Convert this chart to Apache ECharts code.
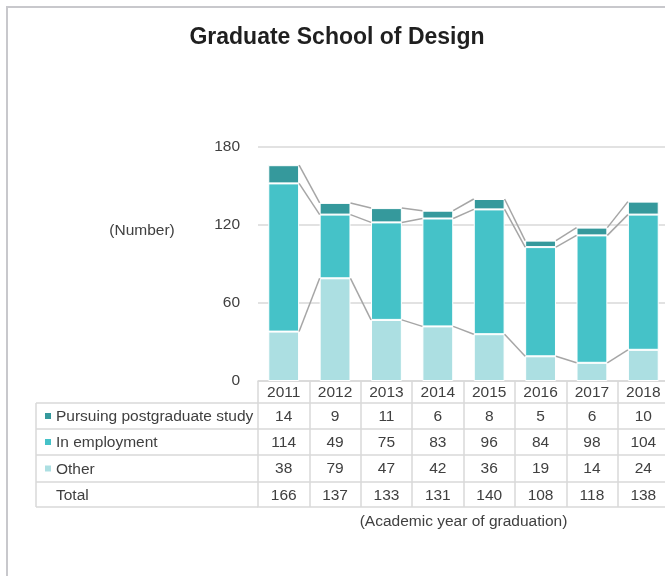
<!DOCTYPE html>
<html>
<head>
<meta charset="utf-8">
<script src="https://cdn.jsdelivr.net/npm/echarts@6/dist/echarts.min.js"></script>
<style>
html,body{margin:0;padding:0;background:#fff;}
#chart{width:665px;height:576px;}
</style>
</head>
<body>
<div id="chart"></div>
<script>
// ---- data ----
const years = ['2011','2012','2013','2014','2015','2016','2017','2018'];
const pursuing = [14, 9, 11, 6, 8, 5, 6, 10];
const employment = [114, 49, 75, 83, 96, 84, 98, 104];
const other = [38, 79, 47, 42, 36, 19, 14, 24];
const totals = [166, 137, 133, 131, 140, 108, 118, 138];
const seriesNames = ['Pursuing postgraduate study', 'In employment', 'Other'];
const totalName = 'Total';
const yMin = 0, yMax = 180, yStep = 60;

// ---- style / layout ----
const FONT = "'Liberation Sans', Arial, sans-serif";
const colors = { pursuing: '#35999c', employment: '#45c2c8', other: '#acdfe2' };
const gridLine = '#d9d9d9';
const textColor = '#404040';
const gridLeft = 258, gridTop = 147, gridW = 411, gridH = 234;
const axisY = gridTop + gridH; // 381
const rowLines = [403, 429, 455, 482, 507];
const tableLeft = 36;
const fs = 15.5;

const rowValues = [pursuing, employment, other, totals];
const rowNames = [seriesNames[0], seriesNames[1], seriesNames[2], totalName];
const rowColors = [colors.pursuing, colors.employment, colors.other, null];

// series lines (boundaries between stacked segments)
const bOther = other.slice();
const bEmp = other.map((v, i) => v + employment[i]);
const bTotal = bEmp.map((v, i) => v + pursuing[i]);
const connData = [];
[bOther, bEmp, bTotal].forEach(b => {
  for (let i = 0; i < b.length - 1; i++) connData.push([i, b[i], b[i + 1]]);
});

const xAxes = [];
// header (years)
xAxes.push({
  type: 'category', data: years, position: 'bottom', offset: 0, boundaryGap: true,
  axisLine: { show: true, lineStyle: { color: gridLine, width: 1.5 } },
  axisTick: { show: true, interval: 0, length: rowLines[0] - axisY, lineStyle: { color: gridLine, width: 1.5 } },
  axisLabel: { interval: 0, margin: 4, fontSize: fs, color: textColor, fontFamily: FONT },
  splitLine: { show: false }
});
// value rows
rowValues.forEach((arr, r) => {
  xAxes.push({
    type: 'category', data: years, position: 'bottom', offset: rowLines[r] - axisY, boundaryGap: true,
    axisLine: { show: true, lineStyle: { color: gridLine, width: 1.5 } },
    axisTick: { show: true, interval: 0, length: rowLines[r + 1] - rowLines[r], lineStyle: { color: gridLine, width: 1.5 } },
    axisLabel: { interval: 0, margin: 6, fontSize: fs, color: textColor, fontFamily: FONT,
      formatter: (v, idx) => String(arr[idx]) },
    splitLine: { show: false }
  });
});
// bottom line + axis name
xAxes.push({
  type: 'category', data: years, position: 'bottom', offset: rowLines[4] - axisY, boundaryGap: true,
  axisLine: { show: true, lineStyle: { color: gridLine, width: 1.5 } },
  axisTick: { show: false }, axisLabel: { show: false },
  name: '(Academic year of graduation)', nameLocation: 'middle', nameGap: 7,
  nameTextStyle: { fontSize: fs, color: textColor, fontFamily: FONT, verticalAlign: 'top' }
});

// left table column
const graphics = [];
graphics.push({ type: 'rect', shape: { x: 7, y: 7, width: 700, height: 600 }, style: { fill: null, stroke: '#c8c8cc', lineWidth: 2 }, silent: true });
rowLines.forEach(y => {
  graphics.push({ type: 'line', shape: { x1: tableLeft, y1: y, x2: gridLeft, y2: y }, style: { stroke: gridLine, lineWidth: 1.5 } });
});
graphics.push({ type: 'line', shape: { x1: tableLeft, y1: rowLines[0], x2: tableLeft, y2: rowLines[4] }, style: { stroke: gridLine, lineWidth: 1.5 } });
rowNames.forEach((name, r) => {
  const cy = (rowLines[r] + rowLines[r + 1]) / 2;
  if (rowColors[r]) {
    graphics.push({ type: 'rect', shape: { x: 45, y: cy - 3, width: 6, height: 6 }, style: { fill: rowColors[r] } });
  }
  graphics.push({ type: 'text', x: 56, y: cy + 1, style: { text: name, fontSize: fs, fill: textColor, fontFamily: FONT, textVerticalAlign: 'middle', textAlign: 'left' } });
});
graphics.push({ type: 'text', x: 142, y: 231, style: { text: '(Number)', fontSize: fs, fill: textColor, fontFamily: FONT, textAlign: 'center', textVerticalAlign: 'middle' } });

const chart = echarts.init(document.getElementById('chart'), null, { renderer: 'canvas' });
chart.setOption({
  animation: false,
  backgroundColor: '#ffffff',
  title: {
    text: 'Graduate School of Design', left: 332, top: 21, textAlign: 'center',
    textStyle: { fontSize: 23, fontWeight: 'bold', color: '#1f1f1f', fontFamily: FONT }
  },
  grid: { left: gridLeft, top: gridTop, width: gridW, height: gridH, containLabel: false, outerBoundsMode: 'none' },
  xAxis: xAxes,
  yAxis: {
    type: 'value', min: yMin, max: yMax, interval: yStep,
    axisLine: { show: false }, axisTick: { show: false },
    axisLabel: { fontSize: fs, color: textColor, fontFamily: FONT, margin: 18 },
    splitLine: { show: true, lineStyle: { color: gridLine, width: 1.5 } }
  },
  graphic: graphics,
  series: [
    { name: seriesNames[2], type: 'bar', stack: 's', data: other, barWidth: '60%', xAxisIndex: 0,
      itemStyle: { color: colors.other, borderColor: '#fff', borderWidth: 1 } },
    { name: seriesNames[1], type: 'bar', stack: 's', data: employment, barWidth: '60%', xAxisIndex: 0,
      itemStyle: { color: colors.employment, borderColor: '#fff', borderWidth: 1 } },
    { name: seriesNames[0], type: 'bar', stack: 's', data: pursuing, barWidth: '60%', xAxisIndex: 0,
      itemStyle: { color: colors.pursuing, borderColor: '#fff', borderWidth: 1 } },
    { type: 'custom', xAxisIndex: 0, data: connData, encode: { x: 0, y: [1, 2] }, silent: true, z: 3,
      renderItem: function (params, api) {
        const i = api.value(0);
        const p1 = api.coord([i, api.value(1)]);
        const p2 = api.coord([i + 1, api.value(2)]);
        const half = api.size([1, 0])[0] * 0.3;
        return { type: 'line', shape: { x1: p1[0] + half, y1: p1[1], x2: p2[0] - half, y2: p2[1] },
          style: { stroke: '#a6a6a6', lineWidth: 1.5 } };
      } }
  ]
});
</script>
</body>
</html>
